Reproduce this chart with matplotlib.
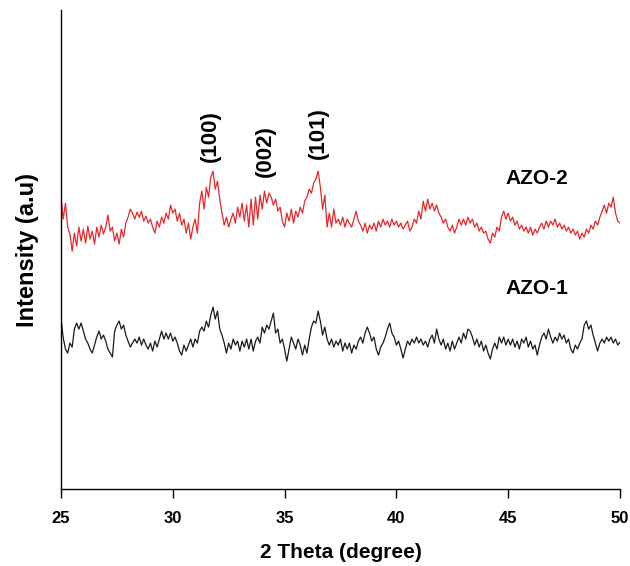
import matplotlib
matplotlib.use("Agg")
import matplotlib.pyplot as plt

# 2-theta scan positions (degree), 0.1 step
two_theta = [
    25.0, 25.1, 25.2, 25.3, 25.4, 25.5, 25.6, 25.7, 25.8, 25.9,
    26.0, 26.1, 26.2, 26.3, 26.4, 26.5, 26.6, 26.7, 26.8, 26.9,
    27.0, 27.1, 27.2, 27.3, 27.4, 27.5, 27.6, 27.7, 27.8, 27.9,
    28.0, 28.1, 28.2, 28.3, 28.4, 28.5, 28.6, 28.7, 28.8, 28.9,
    29.0, 29.1, 29.2, 29.3, 29.4, 29.5, 29.6, 29.7, 29.8, 29.9,
    30.0, 30.1, 30.2, 30.3, 30.4, 30.5, 30.6, 30.7, 30.8, 30.9,
    31.0, 31.1, 31.2, 31.3, 31.4, 31.5, 31.6, 31.7, 31.8, 31.9,
    32.0, 32.1, 32.2, 32.3, 32.4, 32.5, 32.6, 32.7, 32.8, 32.9,
    33.0, 33.1, 33.2, 33.3, 33.4, 33.5, 33.6, 33.7, 33.8, 33.9,
    34.0, 34.1, 34.2, 34.3, 34.4, 34.5, 34.6, 34.7, 34.8, 34.9,
    35.0, 35.1, 35.2, 35.3, 35.4, 35.5, 35.6, 35.7, 35.8, 35.9,
    36.0, 36.1, 36.2, 36.3, 36.4, 36.5, 36.6, 36.7, 36.8, 36.9,
    37.0, 37.1, 37.2, 37.3, 37.4, 37.5, 37.6, 37.7, 37.8, 37.9,
    38.0, 38.1, 38.2, 38.3, 38.4, 38.5, 38.6, 38.7, 38.8, 38.9,
    39.0, 39.1, 39.2, 39.3, 39.4, 39.5, 39.6, 39.7, 39.8, 39.9,
    40.0, 40.1, 40.2, 40.3, 40.4, 40.5, 40.6, 40.7, 40.8, 40.9,
    41.0, 41.1, 41.2, 41.3, 41.4, 41.5, 41.6, 41.7, 41.8, 41.9,
    42.0, 42.1, 42.2, 42.3, 42.4, 42.5, 42.6, 42.7, 42.8, 42.9,
    43.0, 43.1, 43.2, 43.3, 43.4, 43.5, 43.6, 43.7, 43.8, 43.9,
    44.0, 44.1, 44.2, 44.3, 44.4, 44.5, 44.6, 44.7, 44.8, 44.9,
    45.0, 45.1, 45.2, 45.3, 45.4, 45.5, 45.6, 45.7, 45.8, 45.9,
    46.0, 46.1, 46.2, 46.3, 46.4, 46.5, 46.6, 46.7, 46.8, 46.9,
    47.0, 47.1, 47.2, 47.3, 47.4, 47.5, 47.6, 47.7, 47.8, 47.9,
    48.0, 48.1, 48.2, 48.3, 48.4, 48.5, 48.6, 48.7, 48.8, 48.9,
    49.0, 49.1, 49.2, 49.3, 49.4, 49.5, 49.6, 49.7, 49.8, 49.9,
    50.0,
]

# AZO-2 intensity (a.u.)
azo2 = [
    292, 270, 286, 262, 255, 238, 256, 243, 262, 248,
    260, 246, 263, 250, 258, 245, 262, 252, 264, 255,
    262, 274, 258, 262, 248, 256, 245, 260, 252, 266,
    272, 280, 276, 270, 277, 272, 278, 268, 273, 266,
    270, 262, 256, 268, 262, 272, 266, 276, 270, 284,
    276, 280, 268, 276, 264, 270, 256, 266, 250, 262,
    270, 256, 286, 298, 280, 302, 292, 312, 318, 300,
    308, 290, 276, 264, 272, 262, 270, 276, 266, 282,
    272, 286, 268, 284, 262, 290, 264, 292, 270, 294,
    280, 298, 286, 296, 292, 284, 290, 278, 282, 268,
    262, 276, 268, 280, 266, 278, 272, 282, 276, 288,
    292, 300, 296, 306, 310, 318, 302, 280, 294, 262,
    276, 262, 280, 266, 270, 264, 272, 262, 270, 266,
    262, 270, 278, 268, 264, 258, 266, 256, 264, 260,
    266, 258, 268, 262, 270, 264, 268, 262, 270, 264,
    268, 262, 266, 260, 264, 268, 258, 262, 270, 266,
    278, 270, 288, 278, 290, 280, 286, 278, 284, 276,
    272, 266, 270, 262, 258, 264, 256, 262, 270, 264,
    270, 264, 272, 266, 270, 262, 266, 258, 262, 256,
    258, 250, 246, 256, 252, 262, 258, 272, 278, 270,
    276, 268, 272, 264, 268, 260, 264, 258, 262, 256,
    262, 254, 260, 256, 262, 266, 260, 268, 262, 268,
    264, 270, 262, 266, 260, 264, 258, 262, 256, 260,
    254, 258, 250, 256, 252, 260, 256, 264, 260, 268,
    264, 272, 278, 284, 276, 286, 282, 292, 276, 268,
    266,
]

# AZO-1 intensity (a.u.)
azo1 = [
    171, 151, 140, 136, 146, 142, 160, 166, 160, 166,
    158, 150, 146, 140, 136, 144, 152, 158, 150, 154,
    148, 140, 136, 132, 158, 164, 168, 160, 164, 154,
    148, 142, 146, 150, 146, 152, 144, 150, 144, 140,
    146, 138, 148, 142, 150, 158, 150, 156, 150, 156,
    148, 152, 146, 138, 134, 144, 138, 144, 150, 142,
    150, 146, 158, 162, 158, 168, 162, 174, 182, 170,
    178, 160, 154, 146, 136, 146, 140, 150, 144, 148,
    138, 148, 142, 150, 140, 150, 138, 148, 152, 146,
    162, 156, 164, 160, 168, 176, 156, 160, 146, 150,
    140, 128, 140, 152, 146, 140, 150, 144, 134, 144,
    136, 150, 162, 168, 166, 178, 168, 154, 162, 150,
    144, 150, 142, 148, 144, 150, 138, 146, 140, 146,
    136, 144, 140, 148, 152, 146, 156, 162, 156, 148,
    152, 140, 134, 142, 146, 152, 160, 166, 156, 152,
    144, 148, 140, 131, 140, 148, 144, 150, 146, 152,
    146, 150, 144, 148, 142, 150, 154, 146, 160, 150,
    144, 150, 140, 146, 138, 148, 140, 146, 152, 146,
    156, 150, 160, 158, 152, 144, 150, 142, 148, 138,
    144, 136, 130, 140, 146, 140, 152, 146, 152, 144,
    150, 144, 150, 142, 148, 140, 150, 146, 152, 142,
    148, 140, 144, 134, 144, 152, 156, 150, 160, 152,
    146, 152, 148, 156, 150, 154, 146, 150, 140, 136,
    144, 140, 146, 150, 164, 168, 160, 164, 154, 146,
    138, 146, 150, 146, 152, 148, 152, 146, 150, 144,
    147,
]

peak_labels = ["(100)", "(002)", "(101)"]
peak_pos = [31.66, 34.12, 36.49]
peak_height = [353, 338, 356]

font = ["Liberation Sans", "DejaVu Sans"]

fig = plt.figure(figsize=(6.30, 5.66), dpi=100)
ax = fig.add_axes([0.0968, 0.136, 0.8873, 0.846])

ax.plot(two_theta, azo2, color="#e8262b", linewidth=0.9)
ax.plot(two_theta, azo1, color="#1a1a1a", linewidth=0.9)

ax.set_xlim(25, 50)
ax.set_ylim(0, 479)
ax.set_xticks([25, 30, 35, 40, 45, 50])
ax.set_yticks([])

for s in ["top", "right"]:
    ax.spines[s].set_visible(False)
for s in ["left", "bottom"]:
    ax.spines[s].set_linewidth(1.0)

ax.tick_params(axis="x", direction="out", length=6.5, width=1.0, pad=9.5)
for lbl in ax.get_xticklabels():
    lbl.set_fontfamily(font)
    lbl.set_fontweight("bold")
    lbl.set_fontsize(12)

ax.set_xlabel("2 Theta (degree)", fontfamily=font, fontweight="bold",
              fontsize=15, labelpad=12)
ax.set_ylabel("Intensity (a.u)", fontfamily=font, fontweight="bold",
              fontsize=17, labelpad=16)

for lab, x, y in zip(peak_labels, peak_pos, peak_height):
    ax.text(x, y, lab, rotation=90, ha="center", va="center",
            fontfamily=font, fontweight="bold", fontsize=16)

ax.text(46.29, 311, "AZO-2", ha="center", va="center",
        fontfamily=font, fontweight="bold", fontsize=15)
ax.text(46.29, 201, "AZO-1", ha="center", va="center",
        fontfamily=font, fontweight="bold", fontsize=15)

fig.savefig("out.png", dpi=100)
